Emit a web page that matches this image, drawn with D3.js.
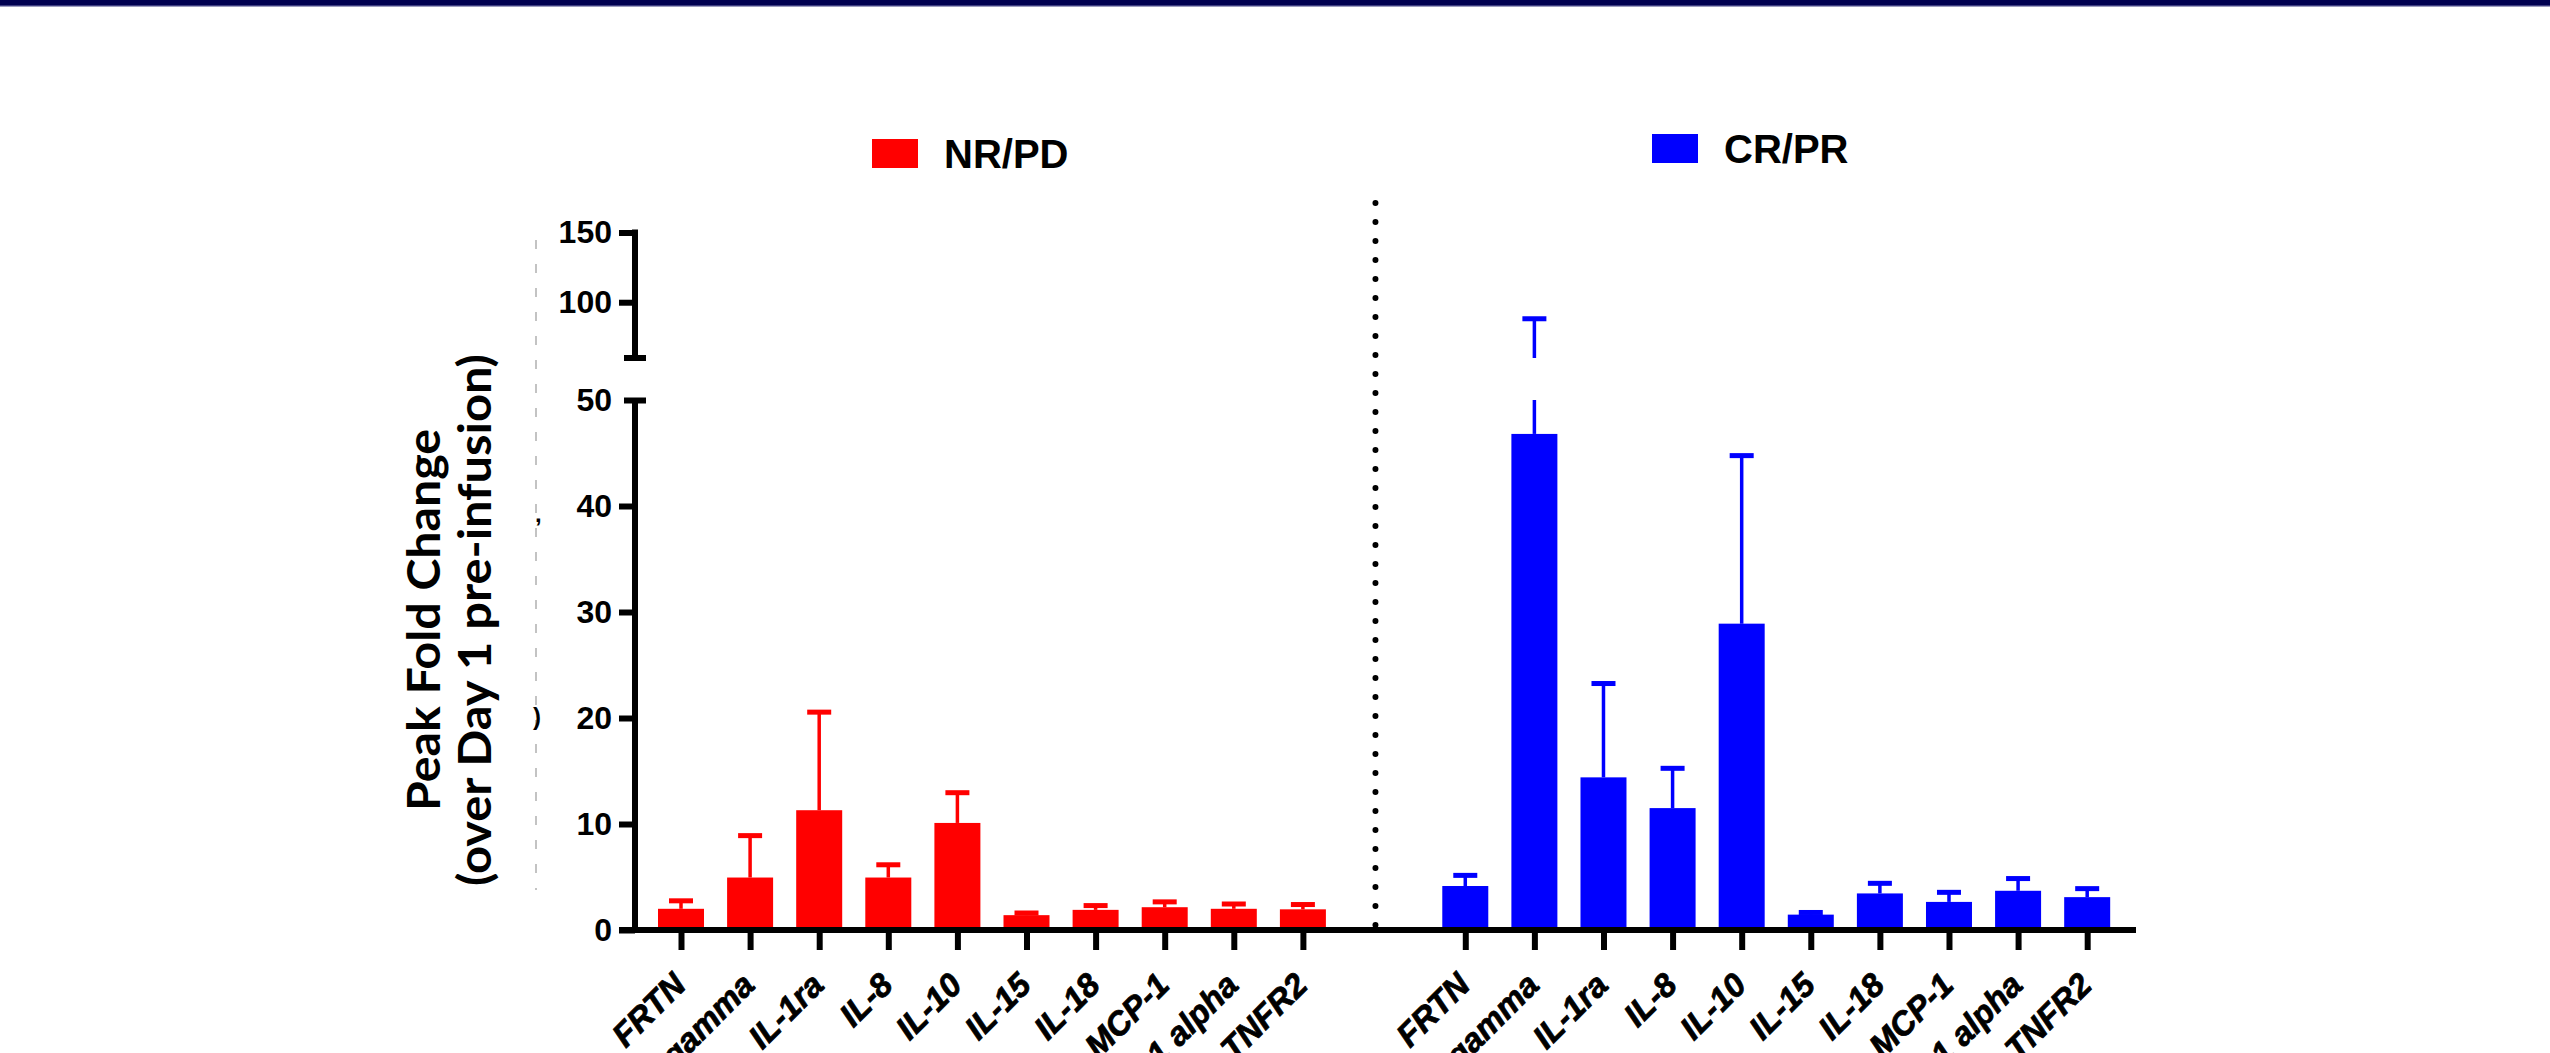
<!DOCTYPE html>
<html>
<head>
<meta charset="utf-8">
<script src="https://cdn.jsdelivr.net/npm/d3@7"></script>
<style>
  body { margin: 0; background: #fff; }
  svg { display: block; }
  text { font-family: "Liberation Sans", Arial, sans-serif; font-weight: bold; }
</style>
</head>
<body>
<div id="chart"></div>
<script>
// data
const categories = ["FRTN", "IFN gamma", "IL-1ra", "IL-8", "IL-10", "IL-15", "IL-18", "MCP-1", "MIP-1 alpha", "TNFR2"];
const nrpdMean  = [2.0, 4.95, 11.3, 4.95, 10.1, 1.4, 1.9, 2.15, 2.0, 1.95];
const nrpdUpper = [2.8, 8.95, 20.6, 6.2, 13.0, 1.65, 2.35, 2.7, 2.5, 2.45];
const crprMean  = [4.15, 46.8, 14.4, 11.5, 28.9, 1.45, 3.45, 2.65, 3.7, 3.1];
const crprUpper = [5.2, 88.5, 23.3, 15.3, 44.8, 1.7, 4.45, 3.6, 4.9, 3.95];
const lowTicks = [0, 10, 20, 30, 40, 50];
const highTicks = [100, 150];
const groups = ["NR/PD", "CR/PR"];
const colors = ["#ff0000", "#0000ff"];

const W = 2550, H = 1053;
const svg = d3.select("#chart").append("svg")
    .attr("width", W)
    .attr("height", H);

svg.append("rect").attr("width", W).attr("height", H).attr("fill", "#fff");

// navy banner at the top
svg.append("rect").attr("x", 0).attr("y", 0).attr("width", W).attr("height", 5).attr("fill", "#000050");
svg.append("rect").attr("x", 0).attr("y", 5).attr("width", W).attr("height", 1.5).attr("fill", "#3c3c80");

// scales (broken y axis)
const axisX = 635;
const yLow = d3.scaleLinear().domain([0, 50]).range([930, 400]);
const yHigh = d3.scaleLinear().domain([60, 150]).range([358, 232.5]);
const xIdx = d3.scaleLinear().domain([0, 1]).range([681, 750.1]);
const blueOffset = 11.35;
const sepIdx = 10.05;
const barW = 46;

// build rows
const rows = [];
categories.forEach((c, i) => {
    rows.push({ key: "r" + i, name: c, mean: nrpdMean[i], upper: nrpdUpper[i], g: 0, pos: i });
});
categories.forEach((c, i) => {
    rows.push({ key: "b" + i, name: c, mean: crprMean[i], upper: crprUpper[i], g: 1, pos: i + blueOffset });
});

const xCat = d3.scaleOrdinal()
    .domain(rows.map(d => d.key))
    .range(rows.map(d => xIdx(d.pos)));

// faint dashed ghost line left of the axis
svg.append("line")
    .attr("x1", 536).attr("x2", 536)
    .attr("y1", 240).attr("y2", 890)
    .attr("stroke", "#b0b0b0")
    .attr("stroke-width", 1.5)
    .attr("stroke-dasharray", "9,15");
svg.append("text").attr("x", 535).attr("y", 522).attr("font-size", 24).text(",");
svg.append("text").attr("x", 533).attr("y", 725).attr("font-size", 24).text(")");

// bars
svg.append("g").selectAll("rect")
    .data(rows)
    .join("rect")
    .attr("x", d => xCat(d.key) - barW / 2)
    .attr("y", d => yLow(d.mean))
    .attr("width", barW)
    .attr("height", d => yLow(0) - yLow(d.mean))
    .attr("fill", d => colors[d.g]);

// error bars (upper only)
const err = svg.append("g");
rows.forEach(d => {
    const cx = xCat(d.key);
    const col = colors[d.g];
    if (d.upper <= 50) {
        err.append("line")
            .attr("x1", cx).attr("x2", cx)
            .attr("y1", yLow(d.mean)).attr("y2", yLow(d.upper))
            .attr("stroke", col).attr("stroke-width", 3.5);
        err.append("rect")
            .attr("x", cx - 12).attr("y", yLow(d.upper) - 2)
            .attr("width", 24).attr("height", 5)
            .attr("fill", col);
    } else {
        err.append("line")
            .attr("x1", cx).attr("x2", cx)
            .attr("y1", yLow(d.mean)).attr("y2", yLow(50))
            .attr("stroke", col).attr("stroke-width", 3.5);
        err.append("line")
            .attr("x1", cx).attr("x2", cx)
            .attr("y1", yHigh(60)).attr("y2", yHigh(d.upper))
            .attr("stroke", col).attr("stroke-width", 3.5);
        err.append("rect")
            .attr("x", cx - 12).attr("y", yHigh(d.upper) - 2)
            .attr("width", 24).attr("height", 5)
            .attr("fill", col);
    }
});

// y axis, lower segment
const gLow = svg.append("g")
    .attr("transform", `translate(${axisX},0)`)
    .call(d3.axisLeft(yLow).tickValues(lowTicks).tickSize(16).tickSizeOuter(0).tickPadding(7));
gLow.select(".domain").remove();
gLow.selectAll(".tick line").attr("stroke-width", 6);
gLow.selectAll(".tick text").attr("font-size", 32).attr("fill", "#000");
gLow.selectAll(".tick").filter(d => d === 50).select("line").attr("x1", 11).attr("x2", -11);
gLow.append("line")
    .attr("x1", 0).attr("x2", 0)
    .attr("y1", yLow(0) + 3).attr("y2", yLow(50))
    .attr("stroke", "#000").attr("stroke-width", 6);

// y axis, upper segment
const gHigh = svg.append("g")
    .attr("transform", `translate(${axisX},0)`)
    .call(d3.axisLeft(yHigh).tickValues(highTicks).tickSize(16).tickSizeOuter(0).tickPadding(7));
gHigh.select(".domain").remove();
gHigh.selectAll(".tick line").attr("stroke-width", 6);
gHigh.selectAll(".tick text").attr("font-size", 32).attr("fill", "#000");
gHigh.append("line")
    .attr("x1", 0).attr("x2", 0)
    .attr("y1", yHigh(60)).attr("y2", yHigh(150) - 3)
    .attr("stroke", "#000").attr("stroke-width", 6);
gHigh.append("line")
    .attr("x1", -11).attr("x2", 11)
    .attr("y1", yHigh(60)).attr("y2", yHigh(60))
    .attr("stroke", "#000").attr("stroke-width", 6);

// x axis
const gX = svg.append("g")
    .attr("transform", `translate(0,${yLow(0)})`)
    .call(d3.axisBottom(xCat).tickSize(20).tickSizeOuter(0)
        .tickFormat(k => rows.find(r => r.key === k).name));
gX.select(".domain").remove();
gX.append("line")
    .attr("x1", axisX - 16).attr("x2", 2136)
    .attr("y1", 0).attr("y2", 0)
    .attr("stroke", "#000").attr("stroke-width", 6);
gX.selectAll(".tick line").attr("stroke-width", 6);
gX.selectAll(".tick text")
    .attr("font-size", 33)
    .attr("font-style", "italic")
    .attr("fill", "#000")
    .attr("stroke", "#000")
    .attr("stroke-width", 0.8)
    .attr("text-anchor", "end")
    .attr("dy", 0)
    .attr("y", 0)
    .attr("transform", "translate(6,57) rotate(-45)");

// dotted separator between groups
svg.append("line")
    .attr("x1", xIdx(sepIdx)).attr("x2", xIdx(sepIdx))
    .attr("y1", 203).attr("y2", 940)
    .attr("stroke", "#000")
    .attr("stroke-width", 6)
    .attr("stroke-linecap", "round")
    .attr("stroke-dasharray", "0,19");

// y axis title
const title = svg.append("text")
    .attr("transform", "translate(424,620) rotate(-90)")
    .attr("text-anchor", "middle")
    .style("font-family", "Lato, 'Open Sans', sans-serif")
    .attr("font-size", 45);
title.append("tspan").attr("x", 0).attr("dy", "0.35em").attr("textLength", 382).attr("lengthAdjust", "spacingAndGlyphs").text("Peak Fold Change");
title.append("tspan").attr("x", 0).attr("dy", 51).attr("textLength", 532).attr("lengthAdjust", "spacingAndGlyphs").text("(over Day 1 pre-infusion)");

// legend
const legendPos = [{ x: 872, y: 139 }, { x: 1652, y: 134 }];
groups.forEach((g, i) => {
    const p = legendPos[i];
    svg.append("rect")
        .attr("x", p.x).attr("y", p.y)
        .attr("width", 46).attr("height", 29)
        .attr("fill", colors[i]);
    svg.append("text")
        .attr("x", p.x + 72).attr("y", p.y + 29)
        .attr("font-size", 40)
        .attr("fill", "#000")
        .text(g);
});
</script>
</body>
</html>
